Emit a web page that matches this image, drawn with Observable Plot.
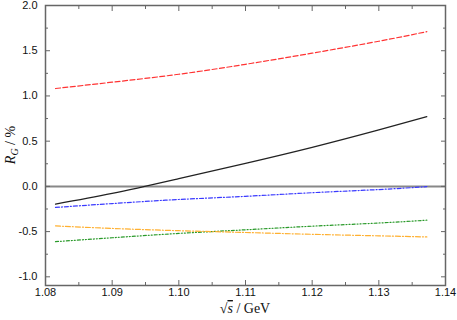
<!DOCTYPE html>
<html><head><meta charset="utf-8">
<script src="https://cdn.jsdelivr.net/npm/d3@7"></script>
<script src="https://cdn.jsdelivr.net/npm/@observablehq/plot@0.6"></script>
<style>body{margin:0;background:#fff}</style>
</head><body><div id="chart"></div>
<script>
const sqrtS = [1.0815, 1.09, 1.10, 1.11, 1.12, 1.13, 1.1372];
const redVals = [1.082, 1.152, 1.24, 1.35, 1.473, 1.605, 1.711];
const blackVals = [-0.196, -0.078, 0.086, 0.255, 0.432, 0.625, 0.772];
const blueVals = [-0.233, -0.19, -0.145, -0.11, -0.07, -0.035, -0.003];
const greenVals = [-0.611, -0.568, -0.52, -0.48, -0.44, -0.405, -0.374];
const orangeVals = [-0.437, -0.465, -0.49, -0.51, -0.53, -0.547, -0.559];
const xTicks = [1.08, 1.09, 1.10, 1.11, 1.12, 1.13, 1.14];
const xMinor = [1.085, 1.095, 1.105, 1.115, 1.125, 1.135];
const yTicks = [-1.0, -0.5, 0.0, 0.5, 1.0, 1.5, 2.0];
const yMinor = [-0.75, -0.25, 0.25, 0.75, 1.25, 1.75];

const series = [
  {vals: redVals, color: "#ff3333", dash: "5,2.5"},
  {vals: blackVals, color: "#222222", dash: null},
  {vals: blueVals, color: "#3a3aff", dash: "4,2,1,2"},
  {vals: greenVals, color: "#2a9a2a", dash: "3,2,1,2,1,2"},
  {vals: orangeVals, color: "#ffb030", dash: "5,2,1,2"}
];
const lineMarks = series.map(s => Plot.line(
  sqrtS.map((x, i) => ({x, y: s.vals[i]})),
  {x: "x", y: "y", stroke: s.color, strokeWidth: 1.2, strokeDasharray: s.dash, curve: "natural"}
));
const fmtX = d => d.toFixed(2);
const fmtY = d => d.toFixed(1);
const axCol = "#666";

const svg = Plot.plot({
  width: 457, height: 320,
  marginLeft: 45, marginRight: 12, marginTop: 5, marginBottom: 35,
  style: {fontFamily: "'Liberation Sans', Arial, sans-serif", fontSize: "11px", color: "#111"},
  x: {domain: [1.08, 1.14]},
  y: {domain: [-1.096, 2.0]},
  marks: [
    Plot.ruleY([0], {stroke: "#888", strokeWidth: 2}),
    ...lineMarks,
    Plot.axisX(xTicks, {anchor: "bottom", tickSize: 0, tickPadding: 3, tickFormat: fmtX, label: null}),
    Plot.axisX(xTicks, {anchor: "bottom", tickSize: -5, text: null, label: null, stroke: axCol}),
    Plot.axisX(xMinor, {anchor: "bottom", tickSize: -3, text: null, label: null, stroke: axCol}),
    Plot.axisX(xTicks, {anchor: "top", tickSize: -5, text: null, label: null, stroke: axCol}),
    Plot.axisX(xMinor, {anchor: "top", tickSize: -3, text: null, label: null, stroke: axCol}),
    Plot.axisY(yTicks, {anchor: "left", tickSize: 0, tickPadding: 8, tickFormat: fmtY, label: null}),
    Plot.axisY(yTicks, {anchor: "left", tickSize: -5, text: null, label: null, stroke: axCol}),
    Plot.axisY(yMinor, {anchor: "left", tickSize: -3, text: null, label: null, stroke: axCol}),
    Plot.axisY(yTicks, {anchor: "right", tickSize: -5, text: null, label: null, stroke: axCol}),
    Plot.axisY(yMinor, {anchor: "right", tickSize: -3, text: null, label: null, stroke: axCol}),
    Plot.frame({stroke: axCol, strokeWidth: 1.5})
  ]
});

const sel = d3.select(svg);
const serif = "'Liberation Serif', 'DejaVu Serif', serif";
// y label
const yl = sel.append("text")
  .attr("transform", "translate(15,145) rotate(-90)")
  .attr("text-anchor", "middle")
  .attr("font-family", serif).attr("font-size", 14).attr("fill", "#111");
yl.append("tspan").attr("font-style", "italic").text("R");
yl.append("tspan").attr("font-style", "italic").attr("font-size", 10).attr("dy", 3).text("G");
yl.append("tspan").attr("dy", -3).text(" / %");
// x label
const xl = sel.append("text")
  .attr("x", 245).attr("y", 313)
  .attr("text-anchor", "middle")
  .attr("font-family", serif).attr("font-size", 14).attr("fill", "#111");
xl.append("tspan").text("\u221A");
xl.append("tspan").attr("font-style", "italic").attr("text-decoration", "overline").text("s");
xl.append("tspan").text(" / GeV");

document.getElementById("chart").appendChild(svg);
</script>
</body></html>
